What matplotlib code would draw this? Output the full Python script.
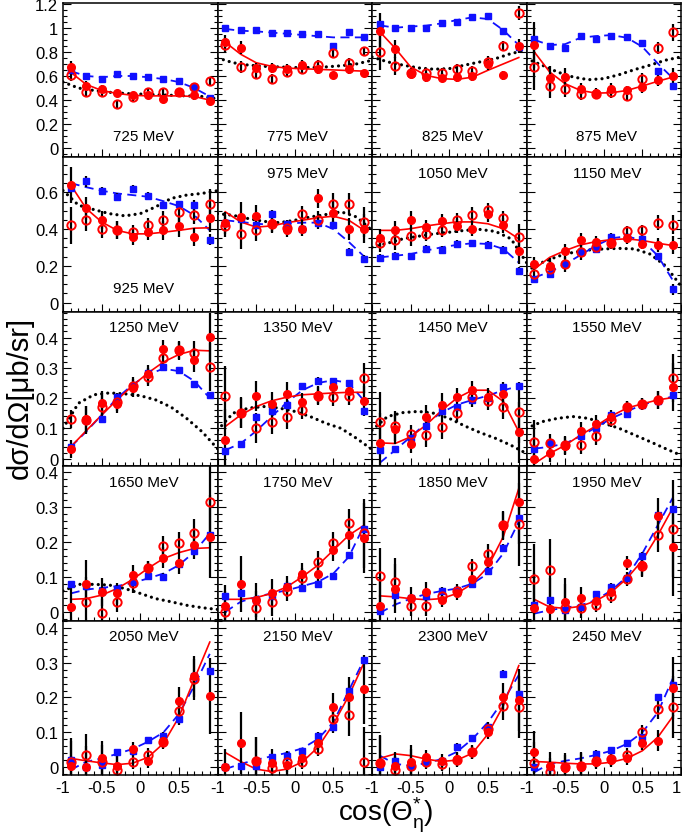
import numpy as np
import matplotlib
matplotlib.use('Agg')
import matplotlib.pyplot as plt
from matplotlib.ticker import MultipleLocator

nan = np.nan

# panels
energies = [725, 775, 825, 875, 925, 975, 1050, 1150, 1250, 1350,
            1450, 1550, 1650, 1750, 1850, 1950, 2050, 2150, 2300, 2450]
x_pts = [-0.9, -0.7, -0.5, -0.3, -0.1, 0.1, 0.3, 0.5, 0.7, 0.9]
x_dot = [-1.0, -0.8, -0.6, -0.4, -0.2, 0.0, 0.2, 0.4, 0.6, 0.8, 1.0]

# blue squares
blue_pts = [
    [0.65, 0.60, 0.575, 0.615, 0.60, 0.59, 0.575, 0.56, 0.51, 0.42],
    [1.0, 0.978, 0.978, 0.96, 0.953, 0.944, 0.947, 0.85, 0.967, 0.925],
    [1.028, 0.994, 1.0, 0.994, 1.036, 1.044, 1.086, 1.097, 0.975, 0.842],
    [0.903, 0.847, 0.836, 0.931, 0.903, 0.931, 0.919, 0.875, 0.639, 0.514],
    [0.626, 0.659, 0.609, 0.576, 0.618, 0.58, 0.53, 0.534, 0.53, 0.343],
    [0.435, 0.453, 0.42, 0.484, 0.429, 0.402, 0.435, 0.424, 0.277, 0.237],
    [0.242, 0.255, 0.251, 0.292, 0.288, 0.319, 0.323, 0.316, 0.288, 0.172],
    [0.127, 0.158, 0.209, 0.273, 0.292, 0.356, 0.356, 0.347, 0.251, 0.072],
    [0.037, 0.126, 0.13, 0.203, 0.239, 0.283, 0.302, 0.294, 0.247, 0.209],
    [0.026, 0.047, 0.139, 0.156, 0.178, 0.239, 0.258, 0.256, 0.25, 0.156],
    [0.028, 0.031, 0.067, 0.108, 0.156, 0.172, 0.194, 0.2, 0.237, 0.239],
    [0.031, 0.052, 0.044, 0.074, 0.1, 0.144, 0.147, 0.178, 0.191, 0.211],
    [0.079, 0.074, 0.059, 0.067, 0.086, 0.103, 0.101, 0.137, 0.174, 0.22],
    [0.045, 0.053, 0.034, 0.045, 0.074, 0.069, 0.081, 0.102, 0.163, 0.237],
    [0.002, 0.048, 0.04, 0.045, 0.06, 0.062, 0.08, 0.118, 0.184, 0.268],
    [0.021, 0.034, 0.005, 0.014, 0.05, 0.072, 0.096, 0.161, 0.278, 0.294],
    [0.02, 0.0, 0.006, 0.041, 0.044, 0.077, 0.09, 0.138, 0.263, 0.275],
    [0.0, 0.001, 0.001, 0.027, 0.032, 0.044, 0.09, 0.114, 0.22, 0.308],
    [-0.002, 0.017, 0.003, 0.013, 0.017, 0.058, 0.082, 0.114, 0.269, 0.21],
    [0.0, 0.0, -0.002, 0.0, 0.037, 0.048, 0.068, 0.085, 0.2, 0.236],
]

# red full circles
full_pts = [
    [0.675, 0.52, 0.49, 0.455, 0.44, 0.44, 0.41, 0.47, 0.44, 0.395],
    [0.878, 0.836, 0.667, 0.667, 0.66, 0.69, 0.66, 0.605, 0.66, 0.622],
    [0.975, 0.82, 0.62, 0.59, 0.586, 0.59, 0.6, 0.70, 0.605, 0.85],
    [0.856, 0.583, 0.592, 0.494, 0.458, 0.489, 0.48, 0.508, 0.564, 0.6],
    [0.64, 0.512, 0.451, 0.396, 0.356, 0.383, 0.393, 0.416, 0.356, 0.462],
    [0.435, 0.466, 0.47, 0.435, 0.396, 0.402, 0.567, 0.49, 0.402, 0.402],
    [0.35, 0.393, 0.448, 0.411, 0.442, 0.417, 0.402, 0.481, 0.42, 0.279],
    [0.209, 0.2, 0.279, 0.338, 0.332, 0.332, 0.35, 0.319, 0.314, 0.314],
    [0.033, 0.13, 0.183, 0.18, 0.233, 0.278, 0.361, 0.356, 0.326, 0.402],
    [0.063, 0.152, 0.208, 0.18, 0.213, 0.187, 0.211, 0.236, 0.222, 0.191],
    [0.052, 0.097, 0.048, 0.137, 0.178, 0.203, 0.226, 0.202, 0.213, 0.087],
    [0.0, 0.019, 0.041, 0.091, 0.113, 0.139, 0.172, 0.18, 0.194, 0.237],
    [0.014, 0.08, 0.057, 0.053, 0.105, 0.127, 0.156, 0.139, 0.193, 0.216],
    [0.016, 0.079, 0.034, 0.055, 0.072, 0.11, 0.11, 0.177, 0.22, 0.211],
    [0.016, 0.067, 0.04, 0.057, 0.034, 0.053, 0.093, 0.142, 0.246, 0.316],
    [0.012, 0.007, 0.027, 0.041, 0.032, 0.057, 0.139, 0.134, 0.276, 0.185],
    [0.003, 0.0, 0.024, 0.003, 0.051, 0.015, 0.073, 0.189, 0.261, 0.205],
    [0.0, 0.068, 0.015, 0.01, 0.005, 0.024, 0.067, 0.173, 0.2, 0.223],
    [0.011, 0.003, 0.014, 0.027, 0.017, 0.022, 0.043, 0.101, 0.202, 0.193],
    [0.043, 0.003, -0.005, 0.0, 0.014, 0.019, 0.024, 0.068, 0.075, 0.227],
]

# red open circles
open_pts = [
    [0.61, 0.465, 0.465, 0.365, 0.425, 0.47, 0.47, 0.47, 0.51, 0.555],
    [0.855, 0.675, 0.614, 0.578, 0.633, 0.66, 0.695, 0.79, 0.708, 0.808],
    [0.8, 0.68, 0.625, 0.625, 0.628, 0.661, 0.639, 0.717, 0.847, 1.12],
    [0.675, 0.517, 0.494, 0.447, 0.453, 0.467, 0.43, 0.578, 0.833, 0.961],
    [0.42, 0.451, 0.402, 0.396, 0.383, 0.42, 0.451, 0.493, 0.479, 0.539],
    [0.417, 0.374, 0.396, 0.429, 0.406, 0.484, 0.451, 0.534, 0.534, 0.439],
    [0.325, 0.338, 0.36, 0.374, 0.396, 0.448, 0.479, 0.503, 0.461, 0.356],
    [0.154, 0.185, 0.209, 0.273, 0.301, 0.323, 0.387, 0.393, 0.435, 0.424],
    [0.131, 0.128, 0.17, 0.186, 0.239, 0.27, 0.333, 0.358, 0.348, 0.302],
    [0.206, 0.15, 0.102, 0.122, 0.139, 0.161, 0.206, 0.203, 0.206, 0.267],
    [0.12, 0.108, 0.08, 0.078, 0.106, 0.15, 0.202, 0.191, 0.17, 0.153],
    [0.056, 0.052, 0.044, 0.044, 0.074, 0.126, 0.17, 0.181, 0.194, 0.267],
    [nan, 0.029, -0.003, 0.029, 0.083, 0.125, 0.189, 0.198, 0.227, 0.316],
    [0.0, nan, 0.01, 0.027, 0.06, 0.096, 0.144, 0.199, 0.254, 0.225],
    [0.102, 0.086, 0.017, 0.017, 0.046, 0.059, 0.132, 0.166, 0.249, 0.251],
    [0.094, 0.12, 0.01, 0.012, 0.021, 0.045, 0.094, 0.131, 0.222, 0.239],
    [0.013, 0.034, 0.014, -0.01, 0.013, 0.035, 0.072, 0.16, 0.252, nan],
    [nan, nan, 0.017, -0.005, 0.014, 0.014, 0.051, 0.138, 0.149, 0.014],
    [0.01, -0.009, 0.001, 0.013, 0.008, 0.019, 0.041, 0.109, 0.176, 0.173],
    [0.01, -0.014, 0.0, 0.001, 0.015, 0.022, 0.035, 0.101, 0.167, 0.173],
]

# error bars (half length) for the red points, and the blue ones
err_red = [
    [0.05, 0.04, 0.035, 0.03, 0.03, 0.03, 0.03, 0.03, 0.035, 0.035],
    [0.06, 0.05, 0.04, 0.04, 0.04, 0.04, 0.04, 0.03, 0.04, 0.03],
    [0.15, 0.075, 0.04, 0.04, 0.04, 0.04, 0.04, 0.05, 0.04, 0.06],
    [0.19, 0.10, 0.07, 0.05, 0.04, 0.05, 0.04, 0.05, 0.05, 0.07],
    [0.1, 0.06, 0.05, 0.05, 0.04, 0.04, 0.05, 0.06, 0.05, 0.08],
    [0.06, 0.08, 0.06, 0.05, 0.04, 0.04, 0.05, 0.06, 0.06, 0.08],
    [0.05, 0.05, 0.05, 0.04, 0.04, 0.04, 0.04, 0.04, 0.04, 0.07],
    [0.04, 0.04, 0.04, 0.04, 0.03, 0.03, 0.03, 0.03, 0.04, 0.05],
    [0.03, 0.045, 0.04, 0.03, 0.03, 0.03, 0.03, 0.03, 0.04, 0.08],
    [0.1, 0.05, 0.05, 0.04, 0.04, 0.03, 0.03, 0.03, 0.03, 0.05],
    [0.1, 0.05, 0.03, 0.04, 0.04, 0.03, 0.03, 0.03, 0.04, 0.1],
    [0.07, 0.03, 0.03, 0.03, 0.03, 0.02, 0.02, 0.02, 0.03, 0.08],
    [0.07, 0.07, 0.04, 0.03, 0.03, 0.02, 0.03, 0.03, 0.04, 0.12],
    [0.06, 0.08, 0.05, 0.04, 0.03, 0.03, 0.03, 0.03, 0.04, 0.1],
    [0.08, 0.07, 0.03, 0.03, 0.02, 0.02, 0.02, 0.03, 0.04, 0.12],
    [0.1, 0.09, 0.07, 0.03, 0.02, 0.02, 0.02, 0.03, 0.05, 0.14],
    [0.07, 0.06, 0.05, 0.04, 0.02, 0.02, 0.02, 0.04, 0.06, 0.11],
    [0.05, 0.09, 0.07, 0.04, 0.03, 0.02, 0.02, 0.04, 0.06, 0.1],
    [0.08, 0.04, 0.05, 0.02, 0.02, 0.02, 0.02, 0.02, 0.04, 0.09],
    [0.06, 0.04, 0.04, 0.04, 0.02, 0.02, 0.02, 0.02, 0.03, 0.09],
]
err_blue = [
    [0.02] * 10, [0.02] * 10, [0.02] * 10,
    [0.03, 0.02, 0.02, 0.02, 0.02, 0.02, 0.02, 0.02, 0.03, 0.03],
    [0.02, 0.03, 0.02, 0.02, 0.02, 0.02, 0.02, 0.02, 0.03, 0.03],
    [0.02] * 10, [0.02] * 10,
    [0.02, 0.02, 0.02, 0.02, 0.02, 0.02, 0.02, 0.02, 0.02, 0.03],
    [0.01] * 10, [0.01] * 10, [0.01] * 10, [0.01] * 10,
    [0.01] * 10, [0.01] * 10, [0.01] * 10, [0.01] * 10,
    [0.01] * 10, [0.01] * 10, [0.01] * 10, [0.01] * 10,
]

# model curves
red_curve = [
    [0.63, 0.53, 0.48, 0.455, 0.44, 0.435, 0.435, 0.435, 0.43, 0.40],
    [0.88, 0.78, 0.71, 0.68, 0.665, 0.66, 0.655, 0.65, 0.645, 0.64],
    [0.967, 0.83, 0.675, 0.605, 0.578, 0.572, 0.59, 0.647, 0.70, 0.753],
    [0.8, 0.633, 0.536, 0.48, 0.458, 0.461, 0.48, 0.517, 0.556, 0.592],
    [0.64, 0.512, 0.439, 0.393, 0.374, 0.374, 0.383, 0.393, 0.405, 0.407],
    [0.494, 0.439, 0.411, 0.417, 0.435, 0.448, 0.462, 0.47, 0.448, 0.393],
    [0.393, 0.393, 0.402, 0.417, 0.429, 0.439, 0.439, 0.429, 0.402, 0.347],
    [0.182, 0.246, 0.283, 0.314, 0.332, 0.343, 0.347, 0.338, 0.323, 0.31],
    [0.039, 0.092, 0.144, 0.194, 0.241, 0.283, 0.319, 0.344, 0.358, 0.356],
    [0.106, 0.144, 0.172, 0.191, 0.203, 0.211, 0.214, 0.217, 0.219, 0.219],
    [0.052, 0.05, 0.072, 0.111, 0.159, 0.2, 0.226, 0.226, 0.189, 0.089],
    [-0.017, 0.017, 0.044, 0.078, 0.108, 0.141, 0.167, 0.181, 0.194, 0.202],
    [0.036, 0.038, 0.048, 0.067, 0.093, 0.125, 0.153, 0.17, 0.182, 0.184],
    [0.036, 0.036, 0.041, 0.053, 0.072, 0.101, 0.134, 0.177, 0.22, 0.249],
    [0.046, 0.043, 0.038, 0.035, 0.038, 0.053, 0.081, 0.129, 0.216, 0.354],
    [0.036, 0.014, 0.01, 0.016, 0.032, 0.057, 0.096, 0.148, 0.22, 0.301],
    [0.024, 0.017, 0.011, 0.006, 0.01, 0.027, 0.067, 0.143, 0.253, 0.36],
    [0.041, 0.015, -0.007, -0.014, -0.007, 0.014, 0.056, 0.123, 0.205, 0.302],
    [0.024, 0.037, 0.032, 0.022, 0.015, 0.019, 0.039, 0.094, 0.176, 0.292],
    [0.015, 0.013, 0.01, 0.008, 0.008, 0.013, 0.024, 0.046, 0.085, 0.147],
]
blue_curve = [
    [0.64, 0.60, 0.59, 0.60, 0.60, 0.59, 0.575, 0.55, 0.50, 0.43],
    [0.99, 0.975, 0.97, 0.96, 0.95, 0.94, 0.93, 0.92, 0.92, 0.92],
    [1.02, 1.0, 1.01, 1.017, 1.036, 1.064, 1.086, 1.072, 0.98, 0.856],
    [0.90, 0.856, 0.864, 0.917, 0.931, 0.939, 0.917, 0.842, 0.703, 0.578],
    [0.65, 0.628, 0.609, 0.594, 0.585, 0.576, 0.552, 0.525, 0.475, 0.393],
    [0.448, 0.439, 0.429, 0.424, 0.429, 0.435, 0.435, 0.40, 0.33, 0.25],
    [0.246, 0.255, 0.264, 0.283, 0.301, 0.314, 0.323, 0.319, 0.292, 0.218],
    [0.136, 0.167, 0.209, 0.259, 0.31, 0.35, 0.361, 0.338, 0.255, 0.117],
    [0.039, 0.089, 0.144, 0.2, 0.244, 0.278, 0.297, 0.289, 0.256, 0.2],
    [0.028, 0.05, 0.091, 0.139, 0.186, 0.226, 0.25, 0.259, 0.25, 0.19],
    [-0.014, 0.028, 0.072, 0.117, 0.152, 0.178, 0.194, 0.208, 0.226, 0.239],
    [0.033, 0.039, 0.05, 0.074, 0.103, 0.133, 0.156, 0.178, 0.192, 0.206],
    [0.053, 0.064, 0.069, 0.074, 0.083, 0.096, 0.11, 0.134, 0.172, 0.225],
    [0.0, 0.029, 0.043, 0.053, 0.062, 0.074, 0.086, 0.11, 0.158, 0.249],
    [-0.003, 0.021, 0.038, 0.051, 0.06, 0.067, 0.081, 0.11, 0.168, 0.259],
    [-0.005, 0.005, 0.012, 0.019, 0.034, 0.062, 0.101, 0.168, 0.249, 0.33],
    [-0.009, 0.014, 0.024, 0.037, 0.051, 0.072, 0.099, 0.152, 0.234, 0.326],
    [-0.007, 0.008, 0.02, 0.03, 0.04, 0.053, 0.08, 0.128, 0.22, 0.311],
    [0.032, 0.008, 0.003, 0.01, 0.022, 0.043, 0.08, 0.128, 0.191, 0.265],
    [-0.016, 0.008, 0.017, 0.024, 0.034, 0.046, 0.066, 0.099, 0.157, 0.258],
]
dot_curve = [
    [0.55, 0.50, 0.48, 0.465, 0.455, 0.45, 0.445, 0.44, 0.435, 0.43, 0.41],
    [0.75, 0.71, 0.69, 0.68, 0.675, 0.67, 0.67, 0.675, 0.685, 0.70, 0.73],
    [0.758, 0.717, 0.69, 0.667, 0.656, 0.661, 0.69, 0.717, 0.744, 0.786, 0.814],
    [0.744, 0.69, 0.633, 0.592, 0.569, 0.578, 0.611, 0.653, 0.69, 0.731, 0.758],
    [0.61, 0.53, 0.506, 0.484, 0.472, 0.484, 0.521, 0.567, 0.585, 0.594, 0.609],
    [0.484, 0.475, 0.457, 0.442, 0.435, 0.448, 0.466, 0.479, 0.494, 0.466, 0.393],
    [0.301, 0.323, 0.347, 0.361, 0.374, 0.383, 0.393, 0.398, 0.387, 0.347, 0.218],
    [0.172, 0.218, 0.251, 0.273, 0.286, 0.292, 0.295, 0.292, 0.264, 0.2, 0.09],
    [0.1, 0.183, 0.211, 0.217, 0.214, 0.208, 0.194, 0.17, 0.133, 0.089, 0.033],
    [0.094, 0.15, 0.167, 0.172, 0.167, 0.156, 0.139, 0.117, 0.1, 0.067, 0.03],
    [0.094, 0.139, 0.152, 0.156, 0.15, 0.133, 0.108, 0.086, 0.067, 0.044, 0.017],
    [0.1, 0.122, 0.133, 0.139, 0.133, 0.117, 0.1, 0.078, 0.056, 0.033, 0.011],
    [0.06, 0.079, 0.079, 0.077, 0.067, 0.053, 0.038, 0.029, 0.019, 0.012, 0.007],
    None, None, None, None, None, None, None,
]

# y axis per row
row_ylim = [(-0.075, 1.205), (-0.05, 0.79), (-0.025, 0.485), (-0.025, 0.418), (-0.024, 0.422)]
row_major = [0.2, 0.2, 0.1, 0.1, 0.1]
row_minor = [0.05, 0.05, 0.02, 0.02, 0.02]
row_top = [1.2, 0.6, 0.4, 0.4, 0.4]

plt.rcParams['font.family'] = ['Liberation Sans', 'DejaVu Sans']
plt.rcParams['mathtext.fontset'] = 'custom'
plt.rcParams['mathtext.rm'] = 'Liberation Sans'
plt.rcParams['mathtext.it'] = 'Liberation Sans:italic'

W, H = 682, 837
fig = plt.figure(figsize=(W / 100, H / 100), dpi=100)
gs = fig.add_gridspec(5, 4, left=63 / W, right=681 / W, top=1 - 4 / H, bottom=1 - 776 / H,
                      hspace=0, wspace=0)

for i, e in enumerate(energies):
    r, c = divmod(i, 4)
    ax = fig.add_subplot(gs[r, c])

    if dot_curve[i] is not None:
        ax.plot(x_dot, dot_curve[i], color='black', lw=2.3, ls=(0, (0.01, 1.9)),
                dash_capstyle='round')
    ax.plot(x_pts, blue_curve[i], color='#1010ff', lw=1.3, ls=(0, (5, 3)))
    ax.plot(x_pts, red_curve[i], color='red', lw=1.2)

    for ys, es in [(blue_pts[i], err_blue[i]), (full_pts[i], err_red[i]), (open_pts[i], err_red[i])]:
        ax.errorbar(x_pts, ys, yerr=es, fmt='none', ecolor='black', elinewidth=1.6, capsize=0)

    ax.plot(x_pts, blue_pts[i], 's', color='#1010ff', ms=5)
    ax.plot(x_pts, full_pts[i], 'o', color='red', ms=5.5)
    ax.plot(x_pts, open_pts[i], 'o', mfc='none', mec='red', mew=1.4, ms=6)

    # energy label
    if r == 0:
        ty = 0.14
    elif e == 925:
        ty = 0.155
    else:
        ty = 0.9
    ax.text(0.52, ty, f'{e} MeV', transform=ax.transAxes, ha='center', va='center', fontsize=11)

    ax.set_xlim(-1, 1)
    ax.set_ylim(*row_ylim[r])
    ax.xaxis.set_major_locator(MultipleLocator(0.5))
    ax.xaxis.set_minor_locator(MultipleLocator(0.1))
    yt = np.arange(0, row_top[r] + 1e-6, row_major[r])
    ax.set_yticks(yt)
    ax.yaxis.set_minor_locator(MultipleLocator(row_minor[r]))
    ax.tick_params(which='both', direction='in', right=True, top=False, labelsize=12)
    ax.tick_params(which='major', length=6, width=0.8)
    ax.tick_params(which='minor', length=3, width=0.8)
    for sp in ax.spines.values():
        sp.set_linewidth(1.1)

    if c == 0:
        ax.set_yticklabels([f'{v:g}' for v in yt])
    else:
        ax.set_yticklabels([])
    if r == 4:
        xl = ['-1', '-0.5', '0', '0.5', '1' if c == 3 else '']
        ax.set_xticks([-1, -0.5, 0, 0.5, 1])
        labs = ax.set_xticklabels(xl)
        labs[-1].set_horizontalalignment('right')
    else:
        ax.set_xticklabels([])

fig.text(20 / W, 1 - 398 / H, 'dσ/dΩ[μb/sr]', rotation=90, fontsize=21, ha='center', va='center')
fig.text(386 / W, 1 - 822 / H, r'cos($\Theta^{*}_{\mathrm{\eta}}$)', fontsize=20,
         ha='center', va='baseline')

fig.savefig('out.png', dpi=100)
plt.close('all')
